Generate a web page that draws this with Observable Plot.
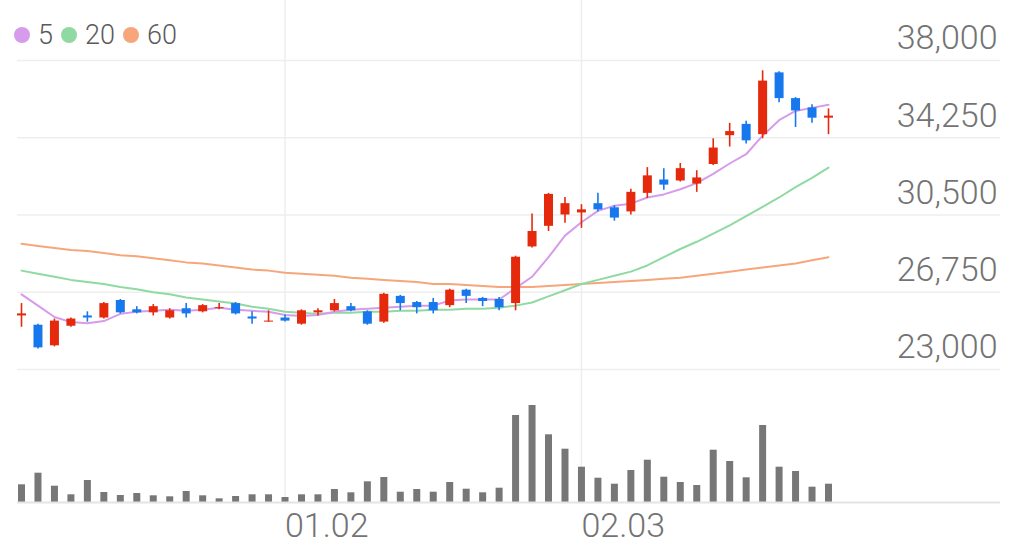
<!DOCTYPE html>
<html>
<head>
<meta charset="utf-8">
<script src="https://cdn.jsdelivr.net/npm/d3@7"></script>
<script src="https://cdn.jsdelivr.net/npm/@observablehq/plot@0.6"></script>
<style>
  body { margin: 0; background: #fff; font-family: Roboto, sans-serif; }
  #chart { position: relative; width: 1012px; height: 557px; }
  #chart svg { display: block; }
  #legend { position: absolute; left: 14px; top: 17px; display: flex; align-items: center;
            font: 300 27px Roboto, sans-serif; color: #5a5a5a; line-height: 36px; }
  #legend .dot { width: 16px; height: 16px; border-radius: 50%; margin-right: 8px; }
  #legend .lbl { margin-right: 8px; }
</style>
</head>
<body>
<div id="chart">
  <div id="legend"></div>
</div>
<script>
// daily candles
const open  = [25600,25150,24150,25100,25600,25500,26350,25900,25750,25500,
               25950,25800,25950,26200,25550,25300,25500,25200,25750,25850,
               26050,25800,25300,26550,26250,26250,26100,26850,26450,26400,
               26200,28950,29950,30500,30600,31050,30850,30650,31550,32200,
               32150,32000,32950,34350,34900,34400,37400,36150,35700,35200];
const high  = [26200,25200,25450,25500,25800,26250,26400,26050,26150,25950,
               26200,26150,26200,26250,25800,25850,25650,25900,25950,26400,
               26200,25850,26700,26600,26300,26450,26900,26900,26500,26500,
               28500,30550,31550,31350,31000,31550,30950,31750,32800,32750,
               33000,32650,34200,34950,35050,37500,37450,36200,35850,35650];
const low   = [25050,24000,24100,25050,25300,25450,25700,25700,25600,25450,
               25500,25750,25900,25650,25200,25300,25300,25150,25600,25800,
               25800,25150,25250,25850,25700,25700,26000,26200,26050,25850,
               25850,28900,29700,30100,29850,30650,30200,30500,31300,31700,
               32100,31600,32900,33800,33950,34200,35950,34750,34950,34400];
const close = [25700,24050,25350,25450,25500,26200,25750,25750,26050,25850,
               25700,26100,26000,25700,25450,25350,25350,25850,25850,26200,
               25850,25200,26650,26200,26000,25850,26850,26550,26300,26000,
               28450,29700,31500,31050,30750,30750,30350,31600,32400,31950,
               32750,32300,33750,34550,34100,37000,36150,35550,35200,35300];
// volume, thousand shares
const volume = [177,293,163,77,220,100,70,90,67,57,
                110,67,37,60,77,77,50,77,77,130,
                97,207,250,103,130,103,200,133,97,143,
                870,970,677,533,353,243,183,320,423,253,
                200,170,523,410,247,770,353,310,153,183];
// moving averages
const ma5  = [26650,26100,25550,25300,25250,25350,25700,25800,25850,25900,
              25850,25900,26000,25900,25850,25800,25650,25600,25650,25800,
              25900,25950,26000,26050,26100,26100,26350,26400,26400,26400,
              26950,27500,28450,29500,30150,30700,30950,31050,31350,31500,
              31750,32050,32500,33000,33450,34350,35100,35550,35700,35850];
const ma20 = [27800,27650,27500,27350,27250,27150,27000,26900,26750,26650,
              26500,26400,26300,26200,26050,25950,25800,25750,25700,25750,
              25750,25800,25800,25850,25850,25900,25900,25950,25950,26000,
              26100,26250,26550,26850,27150,27350,27550,27750,28050,28450,
              28850,29200,29600,30000,30450,30900,31350,31850,32300,32800];
const ma60 = [29100,29000,28900,28800,28750,28650,28550,28500,28400,28300,
              28200,28150,28050,27950,27850,27800,27700,27650,27600,27550,
              27450,27400,27350,27300,27250,27150,27150,27100,27050,27000,
              27000,27000,27050,27100,27150,27200,27250,27300,27350,27400,
              27450,27550,27650,27750,27850,27950,28050,28150,28300,28450];

const priceTicks = [23000, 26750, 30500, 34250, 38000];
const dateTickIndex = [16, 34];
const dateTickLabel = ["01.02", "02.03"];

const maNames  = ["5", "20", "60"];
const maColors = ["#d69ceb", "#8fdaa2", "#f7a67c"];
const upColor = "#e5290c";
const downColor = "#1778ee";
const gridColor = "#eeeeee";
const textColor = "#737373";

const candles = open.map((o, i) => ({
  i, open: o, high: high[i], low: low[i], close: close[i], volume: volume[i],
  ma5: ma5[i], ma20: ma20[i], ma60: ma60[i]
}));
const dateTicks = dateTickIndex.map((i, k) => ({i, label: dateTickLabel[k]}));
const colorOf = d => d.close >= d.open ? upColor : downColor;

const xScale = {domain: [0, candles.length - 1], range: [21, 828]};

let pricePlot = Plot.plot({
  width: 1012,
  height: 370,
  marginLeft: 17,
  marginRight: 12,
  marginTop: 0,
  marginBottom: 0,
  x: {...xScale, axis: null},
  y: {domain: [23000, 38000], range: [369, 60], axis: null},
  style: {fontFamily: "Roboto, sans-serif", overflow: "visible"},
  marks: [
    Plot.ruleX(dateTickIndex, {stroke: gridColor, strokeWidth: 1.5}),
    Plot.ruleY(priceTicks, {stroke: gridColor, strokeWidth: 1.5}),
    Plot.text(priceTicks, {
      y: d => d, text: d => d3.format(",")(d), frameAnchor: "right",
      textAnchor: "end", dx: -3, dy: -22, fontSize: 34, fontWeight: 300, fill: textColor
    }),
    Plot.line(candles, {x: "i", y: "ma60", stroke: maColors[2], strokeWidth: 2}),
    Plot.line(candles, {x: "i", y: "ma20", stroke: maColors[1], strokeWidth: 2}),
    Plot.line(candles, {x: "i", y: "ma5", stroke: maColors[0], strokeWidth: 2}),
    Plot.ruleX(candles, {x: "i", y1: "low", y2: "high", stroke: colorOf, strokeWidth: 1.6}),
    Plot.ruleX(candles, {
      x: "i", y1: "open", y2: "close", stroke: colorOf, strokeWidth: 9, strokeLinecap: "butt"
    })
  ]
});

let volumePlot = Plot.plot({
  width: 1012,
  height: 187,
  marginLeft: 17,
  marginRight: 12,
  marginTop: 0,
  marginBottom: 55,
  x: {...xScale, axis: null},
  y: {domain: [0, d3.max(volume)], range: [132, 35], axis: null},
  style: {fontFamily: "Roboto, sans-serif", overflow: "visible"},
  marks: [
    Plot.ruleX(dateTickIndex, {stroke: gridColor, strokeWidth: 1.5}),
    Plot.ruleX(candles, {x: "i", y1: 0, y2: "volume", stroke: "#777", strokeWidth: 7}),
    Plot.ruleY([0], {stroke: "#e4e4e4", strokeWidth: 2}),
    Plot.text(dateTicks, {
      x: "i", text: "label", frameAnchor: "bottom", textAnchor: "start",
      dy: 34, fontSize: 34, fontWeight: 300, fill: textColor
    })
  ]
});

const chart = document.getElementById("chart");
chart.append(pricePlot);
chart.append(volumePlot);

// legend for moving averages
const legend = d3.select("#legend");
maNames.forEach((name, k) => {
  legend.append("span").attr("class", "dot").style("background", maColors[k]);
  legend.append("span").attr("class", "lbl").text(name);
});
</script>
</body>
</html>
